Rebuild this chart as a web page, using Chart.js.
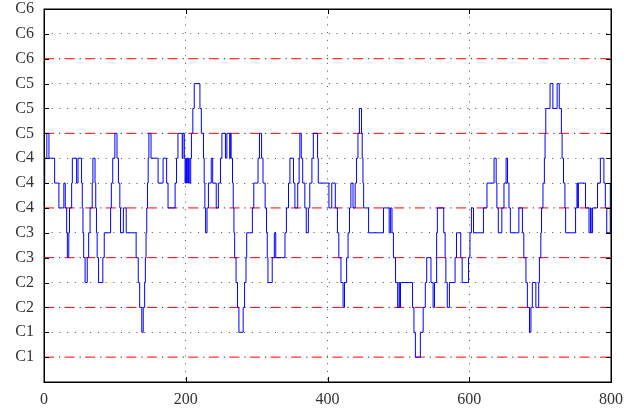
<!DOCTYPE html>
<html>
<head>
<meta charset="utf-8">
<script src="https://cdn.jsdelivr.net/npm/chart.js@4"></script>
<style>
  body { margin: 0; background: #fff; }
  #wrap { width: 631px; height: 410px; }
</style>
</head>
<body>
<div id="wrap"><canvas id="pitchChart" width="631" height="410"></canvas></div>
<script>
// step signal: level changes at these x positions
const changeX = [0, 1, 4, 7, 15, 21, 28, 30, 32, 33, 35, 36, 39, 40, 46, 48, 53, 54, 55, 56,
    58, 61, 63, 65, 68, 69, 72, 73, 74, 75, 77, 83, 85, 94, 95, 97, 100, 103, 105, 107,
    108, 112, 116, 130, 133, 135, 138, 140, 142, 143, 144, 145, 146, 147, 148, 151, 161, 168, 173, 175,
    185, 187, 189, 195, 196, 198, 199, 200, 201, 202, 203, 204, 205, 207, 208, 210, 212, 220, 222, 225,
    226, 227, 228, 230, 232, 236, 238, 243, 246, 249, 251, 256, 258, 262, 263, 264, 266, 267, 268, 269,
    271, 273, 275, 281, 283, 285, 286, 294, 296, 302, 304, 307, 309, 312, 314, 315, 316, 322, 325, 327,
    340, 342, 345, 347, 352, 354, 358, 360, 361, 363, 365, 368, 370, 373, 375, 378, 380, 386, 387, 402,
    406, 411, 414, 416, 419, 422, 424, 427, 429, 431, 433, 436, 439, 441, 443, 445, 448, 449, 450, 451,
    458, 479, 487, 489, 491, 493, 496, 499, 501, 502, 503, 520, 522, 524, 531, 535, 538, 540, 546, 549,
    551, 554, 555, 564, 566, 567, 569, 572, 580, 582, 588, 590, 599, 601, 603, 606, 620, 625, 635, 638,
    639, 641, 646, 649, 652, 654, 656, 658, 670, 675, 677, 680, 682, 685, 687, 689, 694, 698, 699, 701,
    702, 704, 706, 707, 708, 714, 718, 724, 727, 730, 731, 733, 735, 736, 750, 752, 753, 754, 764, 769,
    771, 772, 774, 781, 785, 790, 792, 794, 799];
const changeLevel = [8, 9, 10, 9, 8, 7, 8, 7, 6, 5, 6, 7, 8, 9, 8, 9, 8, 7, 6, 5,
    4, 5, 6, 7, 8, 9, 8, 7, 6, 5, 4, 5, 6, 7, 8, 9, 10, 9, 8, 7,
    6, 7, 6, 5, 4, 3, 2, 3, 4, 5, 6, 7, 8, 9, 10, 9, 8, 9, 8, 7,
    8, 9, 10, 9, 10, 9, 8, 9, 8, 9, 8, 9, 8, 9, 10, 11, 12, 11, 10, 9,
    8, 7, 6, 7, 8, 9, 8, 7, 8, 9, 10, 9, 10, 9, 10, 9, 8, 7, 6, 5,
    4, 3, 2, 3, 4, 5, 6, 7, 8, 9, 10, 9, 8, 7, 6, 5, 4, 5, 6, 5,
    6, 7, 8, 9, 8, 7, 8, 9, 10, 9, 8, 7, 6, 7, 8, 9, 10, 9, 8, 7,
    8, 7, 6, 5, 4, 3, 4, 5, 6, 7, 8, 7, 8, 9, 10, 11, 10, 9, 8, 7,
    6, 7, 6, 7, 6, 5, 4, 3, 4, 3, 4, 3, 2, 1, 2, 3, 4, 5, 4, 3,
    4, 6, 7, 6, 5, 4, 3, 4, 5, 6, 5, 4, 5, 6, 7, 6, 7, 8, 9, 8,
    7, 6, 7, 8, 9, 8, 7, 6, 7, 6, 5, 4, 3, 2, 3, 4, 3, 4, 5, 6,
    7, 8, 9, 10, 11, 12, 11, 12, 11, 10, 9, 8, 7, 6, 7, 8, 7, 8, 7, 6,
    7, 6, 7, 8, 9, 8, 7, 6, 8];
const xEnd = 800;

// y tick labels, index = level
const yTickLabels = ['', 'C1', 'C1', 'C2', 'C2', 'C3', 'C3', 'C4', 'C4', 'C4',
    'C5', 'C5', 'C5', 'C6', 'C6', 'C6'];
const xTicks = [0, 200, 400, 600, 800];
// levels marked with red dash-dot lines
const redLevels = [1, 3, 5, 7, 10, 13];

const labelFont = { family: 'Liberation Serif', size: 16 };

var stepPoints = changeX.map((x, i) => ({ x: x, y: changeLevel[i] }));
stepPoints.push({ x: xEnd, y: changeLevel[changeLevel.length - 1] });

var datasets = [{
    data: stepPoints,
    stepped: true,
    borderColor: '#0000ff',
    borderWidth: 1,
    pointRadius: 0,
    fill: false
}];

redLevels.forEach(function(lv) {
    datasets.push({
        data: [{ x: 0, y: lv }, { x: xEnd, y: lv }],
        borderColor: '#ff0000',
        borderWidth: 1,
        borderDash: [10, 10.6],
        pointRadius: 0
    });
    datasets.push({
        data: [{ x: 0, y: lv }, { x: xEnd, y: lv }],
        borderColor: '#222',
        borderWidth: 1,
        borderDash: [1.2, 19.4],
        borderDashOffset: -15,
        pointRadius: 0
    });
});

// box around the plot and inward tick marks
const framePlugin = {
    id: 'frame',
    afterDraw(chart) {
        const ctx = chart.ctx;
        const a = chart.chartArea;
        const xs = chart.scales.x, ys = chart.scales.y;
        ctx.save();
        ctx.strokeStyle = '#000';
        ctx.lineWidth = 1;
        ctx.beginPath();
        ys.ticks.forEach(function(t) {
            const py = Math.round(ys.getPixelForValue(t.value)) + 0.5;
            ctx.moveTo(a.left, py); ctx.lineTo(a.left + 5, py);
            ctx.moveTo(a.right, py); ctx.lineTo(a.right - 5, py);
        });
        xs.ticks.forEach(function(t) {
            const px = Math.round(xs.getPixelForValue(t.value)) + 0.5;
            ctx.moveTo(px, a.bottom); ctx.lineTo(px, a.bottom - 5);
            ctx.moveTo(px, a.top); ctx.lineTo(px, a.top + 5);
        });
        ctx.stroke();
        ctx.lineWidth = 1.5;
        ctx.strokeRect(Math.round(a.left) + 0.25, Math.round(a.top) + 0.25,
            Math.round(a.right) - Math.round(a.left), Math.round(a.bottom) - Math.round(a.top));
        ctx.restore();
    }
};

var ctx = document.getElementById('pitchChart').getContext('2d');

const pitchChart = new Chart(ctx, {
    type: 'line',
    data: { datasets: datasets },
    plugins: [framePlugin],
    options: {
        responsive: false,
        animation: false,
        devicePixelRatio: 1,
        layout: { padding: { top: 9, right: 20, left: 0, bottom: 0 } },
        plugins: {
            legend: { display: false },
            tooltip: { enabled: false }
        },
        scales: {
            x: {
                type: 'linear',
                min: 0,
                max: xEnd,
                afterBuildTicks: function(scale) {
                    scale.ticks = xTicks.map(v => ({ value: v }));
                },
                afterFit: function(scale) {
                    scale.height = 28;
                    scale.paddingLeft = 0;
                    scale.paddingRight = 0;
                },
                ticks: { font: labelFont, color: '#333', padding: 8, maxRotation: 0 },
                grid: {
                    drawTicks: false,
                    color: c => (c.tick && c.tick.value > 0 && c.tick.value < xEnd) ? '#555' : 'rgba(0,0,0,0)'
                },
                border: { display: false, dash: [1, 6.7] }
            },
            y: {
                type: 'linear',
                min: 0,
                max: yTickLabels.length - 1,
                afterBuildTicks: function(scale) {
                    scale.ticks = yTickLabels.map((s, i) => ({ value: i }));
                },
                afterFit: function(scale) {
                    scale.width = 44;
                    scale.paddingTop = 0;
                    scale.paddingBottom = 0;
                },
                ticks: {
                    autoSkip: false,
                    font: labelFont,
                    color: '#333',
                    padding: 10,
                    callback: v => yTickLabels[v]
                },
                grid: {
                    drawTicks: false,
                    color: c => (c.tick && c.tick.value > 0 && c.tick.value < yTickLabels.length - 1
                        && redLevels.indexOf(c.tick.value) < 0) ? '#555' : 'rgba(0,0,0,0)'
                },
                border: { display: false, dash: [1, 6.7] }
            }
        }
    }
});
</script>
</body>
</html>
